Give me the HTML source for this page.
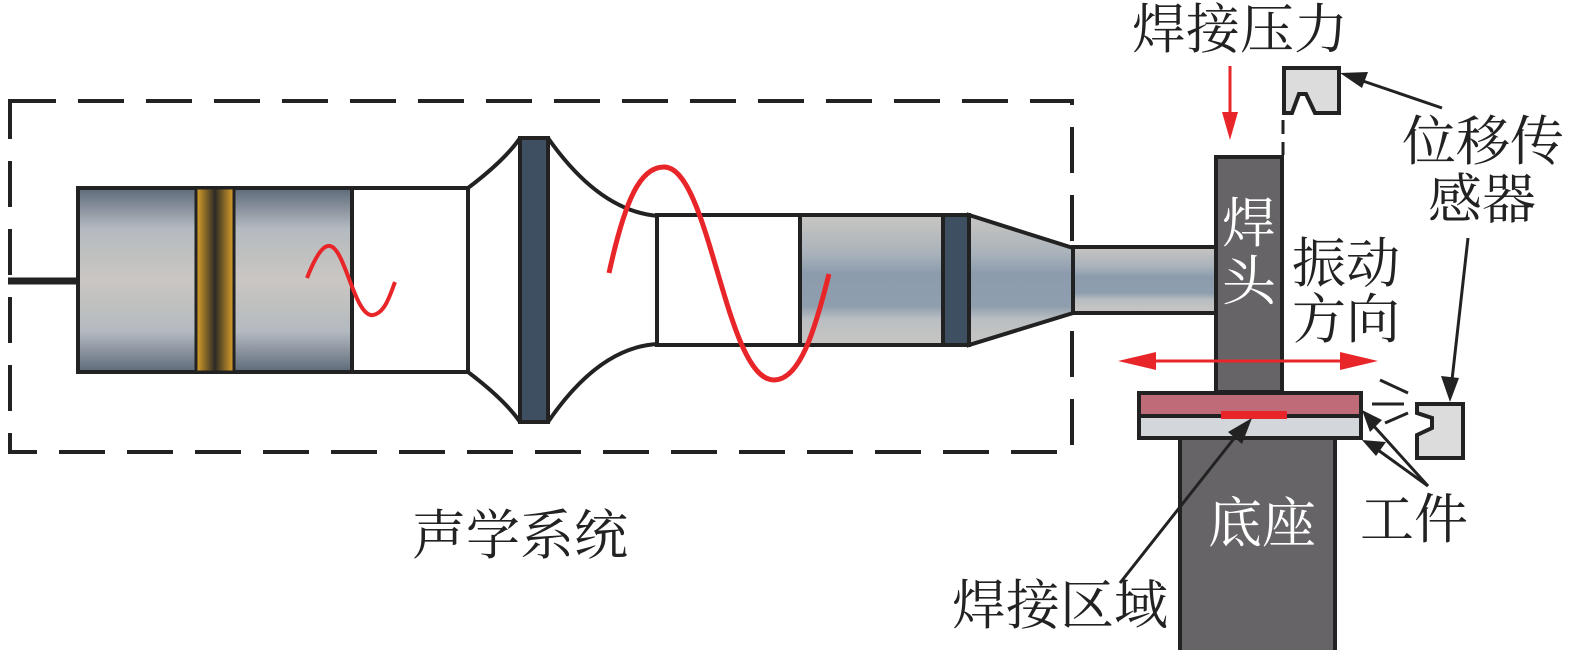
<!DOCTYPE html>
<html><head><meta charset="utf-8"><style>
html,body{margin:0;padding:0;background:#fff;}
svg{display:block;}
text{font-family:"Liberation Serif","Noto Serif CJK SC","Noto Sans CJK SC",serif;font-size:54px;fill:#222;}
</style></head><body>
<svg width="1575" height="650" viewBox="0 0 1575 650" xmlns="http://www.w3.org/2000/svg">
<defs>
<linearGradient id="g1" x1="0" y1="0" x2="0" y2="1">
<stop offset="0" stop-color="#5e6a7a"/><stop offset="0.22" stop-color="#b3bac0"/><stop offset="0.5" stop-color="#cbc6c1"/><stop offset="0.78" stop-color="#b3bac0"/><stop offset="1" stop-color="#5e6a7a"/>
</linearGradient>
<linearGradient id="g2" x1="0" y1="0" x2="0" y2="1">
<stop offset="0" stop-color="#c8c6c2"/><stop offset="0.3" stop-color="#a9b2bb"/><stop offset="0.45" stop-color="#8c9cad"/><stop offset="0.7" stop-color="#8f9eae"/><stop offset="0.8" stop-color="#b9bec2"/><stop offset="1" stop-color="#c8c6c2"/>
</linearGradient>
<linearGradient id="gold" x1="0" y1="0" x2="1" y2="0">
<stop offset="0" stop-color="#e0a428"/><stop offset="0.5" stop-color="#2c2a26"/><stop offset="1" stop-color="#e0a428"/>
</linearGradient>
</defs>

<rect x="10" y="101" width="1062" height="351" fill="none" stroke="#222" stroke-width="4" stroke-dasharray="46,22"/>

<line x1="8" y1="281" x2="80" y2="281" stroke="#222" stroke-width="7"/>

<rect x="78" y="188" width="274" height="184" fill="url(#g1)" stroke="#222" stroke-width="4"/>
<rect x="196" y="188" width="38" height="184" fill="url(#gold)" stroke="#222" stroke-width="3"/>
<rect x="352" y="188" width="116" height="184" fill="#fff" stroke="#222" stroke-width="4"/>

<path d="M468 188 Q505 160 520 138" fill="none" stroke="#222" stroke-width="4"/>
<path d="M468 372 Q505 400 520 422" fill="none" stroke="#222" stroke-width="4"/>
<path d="M548 138 Q600 212 659 216" fill="none" stroke="#222" stroke-width="4"/>
<path d="M548 422 Q600 346 659 344" fill="none" stroke="#222" stroke-width="4"/>
<rect x="520" y="138" width="28" height="284" fill="#3d4f60" stroke="#222" stroke-width="4"/>

<rect x="657" y="215" width="143" height="130" fill="#fff" stroke="#222" stroke-width="4"/>
<rect x="800" y="215" width="143" height="130" fill="url(#g2)" stroke="#222" stroke-width="4"/>
<rect x="943" y="215" width="26" height="130" fill="#3d4f60" stroke="#222" stroke-width="4"/>
<polygon points="969,215 1073,248 1073,313 969,345" fill="url(#g2)" stroke="#222" stroke-width="4"/>
<rect x="1073" y="247" width="144" height="66" fill="url(#g2)" stroke="#222" stroke-width="4"/>

<path d="M307 278 C318 250 325 245 330 246 C345 248 355 318 373 315 C385 313 390 295 395 282" fill="none" stroke="#e8262a" stroke-width="4"/>
<path d="M609 273 C625 200 640 167 664 167 C710 167 725 380 774 380 C800 380 815 330 829 274" fill="none" stroke="#e8262a" stroke-width="5"/>

<rect x="1216" y="157" width="66" height="235" fill="#666467" stroke="#222" stroke-width="4"/>
<text x="1249" y="242" text-anchor="middle" style="fill:#fff">焊</text>
<text x="1249" y="300" text-anchor="middle" style="fill:#fff">头</text>

<rect x="1180" y="437" width="155" height="215" fill="#666467" stroke="#222" stroke-width="4"/>
<text x="1262" y="542" text-anchor="middle" style="fill:#fff">底座</text>

<rect x="1139" y="393" width="222" height="23" fill="#c06b78" stroke="#222" stroke-width="4"/>
<rect x="1139" y="416" width="222" height="22" fill="#d3d7dc" stroke="#222" stroke-width="4"/>
<rect x="1221" y="411" width="66" height="8" fill="#e8262a"/>

<path d="M1284 68 H1339 V113 H1315 L1306 94 H1299 L1292 113 H1284 Z" fill="#dcdcdc" stroke="#222" stroke-width="4"/>
<line x1="1283" y1="120" x2="1283" y2="155" stroke="#222" stroke-width="3" stroke-dasharray="14,8"/>

<path d="M1417 404 H1463 V458 H1417 V435 L1432 428 V418 L1417 413 Z" fill="#dcdcdc" stroke="#222" stroke-width="4"/>
<line x1="1380" y1="380" x2="1408" y2="393" stroke="#222" stroke-width="3"/>
<line x1="1372" y1="404" x2="1404" y2="404" stroke="#222" stroke-width="3"/>
<line x1="1385" y1="423" x2="1408" y2="413" stroke="#222" stroke-width="3"/>

<line x1="1230" y1="66" x2="1230" y2="115" stroke="#e8262a" stroke-width="3"/>
<polygon points="1222,112 1238,112 1230,140" fill="#e8262a"/>
<line x1="1140" y1="361" x2="1355" y2="361" stroke="#e8262a" stroke-width="3"/>
<polygon points="1118,361 1156,352 1156,370" fill="#e8262a"/>
<polygon points="1378,361 1340,352 1340,370" fill="#e8262a"/>

<g stroke="#222" stroke-width="3" fill="#222">
<line x1="1442" y1="108" x2="1360" y2="80"/>
<polygon points="1340,73 1368,72 1362,88" stroke="none"/>
<line x1="1468" y1="238" x2="1452" y2="380"/>
<polygon points="1450,402 1441,376 1459,378" stroke="none"/>
<line x1="1120" y1="583" x2="1236" y2="436"/>
<polygon points="1252,418 1242,444 1228,432" stroke="none"/>
<line x1="1428" y1="486" x2="1372" y2="424"/>
<polygon points="1362,410 1382,420 1370,432" stroke="none"/>
<line x1="1428" y1="486" x2="1378" y2="450"/>
<polygon points="1362,440 1386,442 1376,456" stroke="none"/>
</g>

<text x="1132" y="48">焊接压力</text>
<text x="1402" y="160">位移传</text>
<text x="1428" y="218">感器</text>
<text x="1292" y="282">振动</text>
<text x="1292" y="338">方向</text>
<text x="1360" y="538">工件</text>
<text x="952" y="624">焊接区域</text>
<text x="412" y="554">声学系统</text>
</svg>
</body></html>
